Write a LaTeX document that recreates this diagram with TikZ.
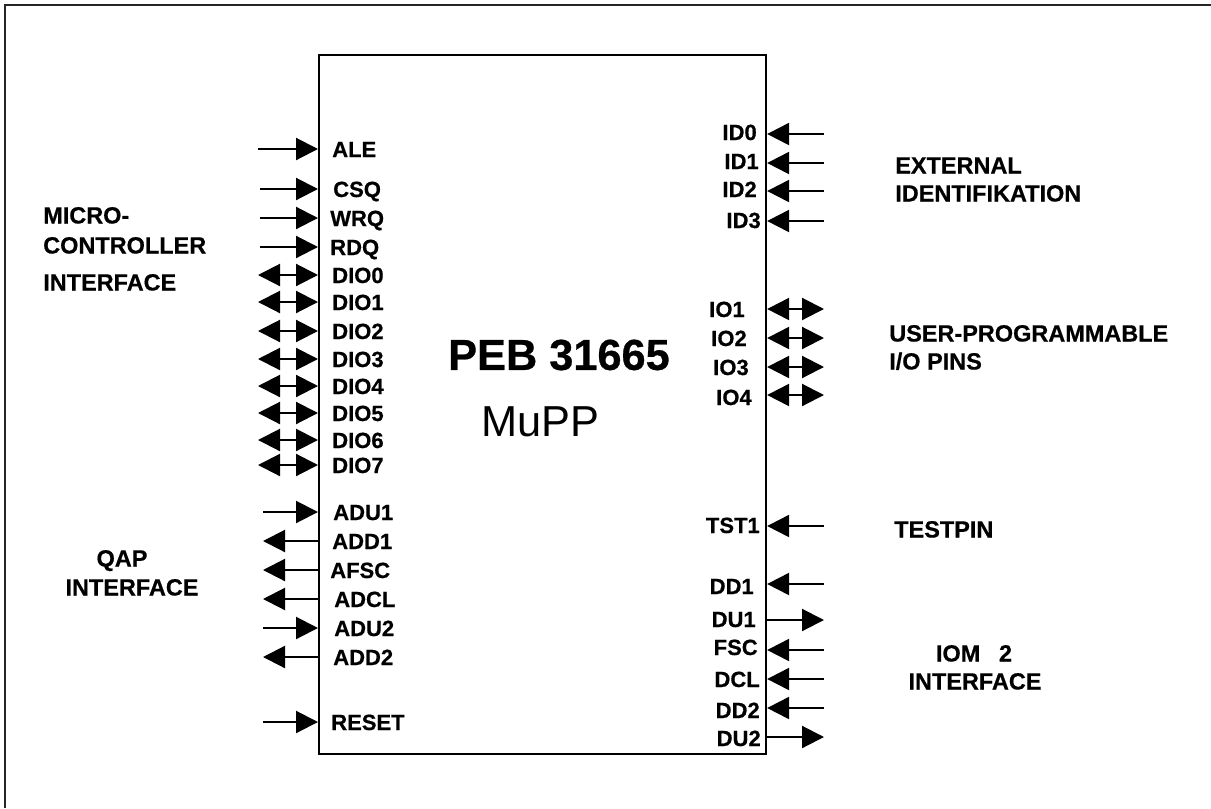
\documentclass[tikz,border=0pt]{standalone}
\usepackage{fontspec}
\setmainfont{Liberation Sans}[BoldFeatures={FakeBold=0.6}]
\usetikzlibrary{arrows.meta}
\newcommand\pinfont{\fontsize{16.5pt}{18pt}\selectfont\bfseries}
\newcommand\groupfont{\fontsize{17.6pt}{20pt}\selectfont\bfseries}
\newcommand\chiptitlefont{\fontsize{32.5pt}{36pt}\selectfont\bfseries}
\newcommand\chipsubfont{\fontsize{32.5pt}{36pt}\selectfont}
\begin{document}
\begin{tikzpicture}[x=0.75pt,y=-0.75pt,
  >={Triangle[length=16.5pt,width=16.5pt]},
  pin/.style={line width=1.6pt},
  lpin/.style={inner sep=0pt, font=\pinfont, anchor=base west},
  rpin/.style={inner sep=0pt, font=\pinfont, anchor=base east},
  grp/.style={inner sep=0pt, font=\groupfont, anchor=base west},
  grpc/.style={inner sep=0pt, font=\groupfont, anchor=base},
]
\useasboundingbox (0,0) rectangle (1211,808);
% frame (top and left edges only)
\draw[line width=1.5pt, black!85] (5,808) -- (5,5) -- (1211,5);

% chip
\node[draw, line width=1.6pt, anchor=north west, minimum width=335.25pt,
      minimum height=524.25pt, inner sep=0pt] (chip) at (318,54) {};
\node[font=\chiptitlefont, inner sep=0pt] (title) at (559,355) {PEB 31665};
\node[font=\chipsubfont, inner sep=0pt] (sub) at (540,422) {MuPP};

% left inputs
\foreach \n/\x/\y in {ALE/258/149, CSQ/260/189, WRQ/260/218, RDQ/260/247,
                      ADU1/263/512, ADU2/263/628, RESET/263/722} {
  \coordinate (e\n) at (\x,\y);
  \draw[pin,->] (e\n) -- (e\n -| chip.west);
}
% left outputs
\foreach \n/\x/\y in {ADD1/263/541, AFSC/263/570, ADCL/263/599, ADD2/263/657} {
  \coordinate (e\n) at (\x,\y);
  \draw[pin,->] (e\n -| chip.west) -- (e\n);
}
% left bidirectional
\foreach \n/\x/\y in {DIO0/258/275, DIO1/258/302, DIO2/258/331, DIO3/258/359,
                      DIO4/258/386, DIO5/258/413, DIO6/258/440, DIO7/258/465} {
  \coordinate (e\n) at (\x,\y);
  \draw[pin,<->] (e\n) -- (e\n -| chip.west);
}
% right inputs
\foreach \n/\y in {ID0/134, ID1/163, ID2/191, ID3/221, TST1/526, DD1/584,
                   FSC/650, DCL/679, DD2/708} {
  \coordinate (e\n) at (824,\y);
  \draw[pin,->] (e\n) -- (e\n -| chip.east);
}
% right outputs
\foreach \n/\y in {DU1/620, DU2/737} {
  \coordinate (e\n) at (824,\y);
  \draw[pin,->] (e\n -| chip.east) -- (e\n);
}
% right bidirectional
\foreach \n/\y in {IO1/309, IO2/338, IO3/367, IO4/395} {
  \coordinate (e\n) at (824,\y);
  \draw[pin,<->] (e\n -| chip.east) -- (e\n);
}

% left pin labels
\foreach \n/\x/\y in {ALE/332/149, CSQ/333/189, WRQ/330/218, RDQ/330/247,
    DIO0/332/275, DIO1/332/302, DIO2/332/331, DIO3/332/359, DIO4/332/386,
    DIO5/332/413, DIO6/332/440, DIO7/332/465,
    ADU1/333/512, ADD1/332/541, AFSC/330/570, ADCL/334/599, ADU2/334/628,
    ADD2/333/657, RESET/331/722} {
  \node[lpin] (l\n) at (\x,\y+8) {\n};
}
% right pin labels
\foreach \n/\x/\y in {ID0/757/132, ID1/759/161, ID2/757/189, ID3/761/220,
    IO1/745/309, IO2/747/338, IO3/749/367, IO4/752/397,
    TST1/760/525, DD1/754/586, DU1/756/619, FSC/758/647, DCL/760/679,
    DD2/760/710, DU2/761/738} {
  \node[rpin] (l\n) at (\x,\y+8) {\n};
}

% group labels
\node[grp] (g1) at (43,215+8.5) {MICRO-};
\node[grp] (g2) at (43,245+8.5) {CONTROLLER};
\node[grp] (g3) at (43,282+8.5) {INTERFACE};
\node[grpc] (g4) at (122,558+8.5) {QAP};
\node[grpc] (g5) at (132,587+8.5) {INTERFACE};
\node[grp] (g6) at (895,165+8.5) {EXTERNAL};
\node[grp] (g7) at (895,193+8.5) {IDENTIFIKATION};
\node[grp] (g8) at (889,333+8.5) {USER-PROGRAMMABLE};
\node[grp] (g9) at (889,361+8.5) {I/O PINS};
\node[grp] (g10) at (894,529+8.5) {TESTPIN};
\node[grpc] (g11) at (974,653+8.5) {IOM\hspace{14pt}2};
\node[grpc] (g12) at (975,681+8.5) {INTERFACE};
\end{tikzpicture}
\end{document}
